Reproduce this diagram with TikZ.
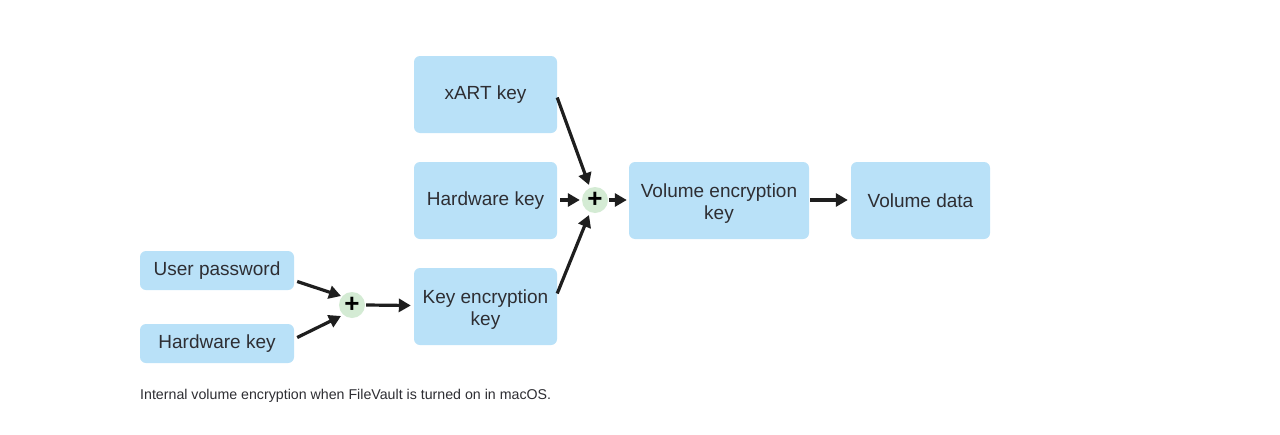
\documentclass[tikz,border=0pt]{standalone}
\usepackage{fontspec}
\setmainfont{Liberation Sans}
\usetikzlibrary{arrows.meta,calc}
\definecolor{boxblue}{HTML}{B9E1F8}
\definecolor{plusgreen}{HTML}{D4EBD4}
\definecolor{txt}{HTML}{2E2E33}
\definecolor{arr}{HTML}{1E1E1E}
\tikzset{
  keybox/.style={fill=boxblue, draw=none, rounded corners=6pt, inner sep=0pt},
  boxtext/.style={align=center, text=txt, font=\fontsize{19}{22}\selectfont, inner sep=0pt},
  plusnode/.style={circle, fill=plusgreen, draw=none, minimum size=26pt, inner sep=0pt,
    font=\fontsize{26}{26}\bfseries\selectfont, text=black},
  conn/.style={draw=arr, line width=3.2pt, -{Triangle[length=12pt,width=13pt]}},
}
\begin{document}
\begin{tikzpicture}[x=1pt,y=-1pt]
\useasboundingbox (0,0) rectangle (1280,434);
\fill[white] (0,0) rectangle (1280,434);
\node[keybox, minimum width=143pt, minimum height=77pt] (xart) at (485.5,94.5) {};
\node[keybox, minimum width=143pt, minimum height=77pt] (hwm) at (485.5,200.5) {};
\node[keybox, minimum width=143pt, minimum height=77pt] (kek) at (485.5,306.5) {};
\node[keybox, minimum width=154pt, minimum height=39pt] (up) at (217,270.5) {};
\node[keybox, minimum width=154pt, minimum height=39pt] (hwl) at (217,343.5) {};
\node[keybox, minimum width=180pt, minimum height=77pt] (vek) at (719,200.5) {};
\node[keybox, minimum width=139pt, minimum height=77pt] (vd) at (920.5,200.5) {};
\node[boxtext] (xart-t) at ($(xart)+(0,0.5)$) {xART key};
\node[boxtext] (hwm-t) at ($(hwm)+(0,0)$) {Hardware key};
\node[boxtext] (kek-t) at ($(kek)+(0,3)$) {Key encryption\\key};
\node[boxtext] (up-t) at ($(up)+(0,0)$) {User password};
\node[boxtext] (hwl-t) at ($(hwl)+(0,0)$) {Hardware key};
\node[boxtext] (vek-t) at ($(vek)+(0,3.5)$) {Volume encryption\\key};
\node[boxtext] (vd-t) at ($(vd)+(0,0)$) {Volume data};
\node[plusnode] (p1) at (352,305) {\raisebox{-1.5pt}{+}};
\node[plusnode] (p2) at (595,200) {\raisebox{-1.5pt}{+}};
\draw[conn] ($(up.east)+(3,11)$) -- ($(p1)+(-11,-9)$);
\draw[conn] ($(hwl.east)+(3,-6)$) -- ($(p1)+(-11,11)$);
\draw[conn] ($(p1.east)+(1,0)$) -- ($(kek.west)+(-3,-1)$);
\draw[conn] ($(xart.east)+(0,3)$) -- ($(p2)+(-6,-15)$);
\draw[conn] ($(kek.east)+(0,-13)$) -- ($(p2)+(-6,15)$);
\draw[conn] ($(hwm.east)+(3,-0.5)$) -- ($(p2.west)+(-2,0)$);
\draw[conn] ($(p2.east)+(1,0)$) -- ($(vek.west)+(-2,-0.5)$);
\draw[conn] ($(vek.east)+(1,-0.5)$) -- ($(vd.west)+(-3,-0.5)$);
\node[anchor=west, text=txt, font=\fontsize{14.2}{16}\selectfont, inner sep=0pt] (cap) at (140,396) {Internal volume encryption when FileVault is turned on in macOS.};
\end{tikzpicture}
\end{document}
